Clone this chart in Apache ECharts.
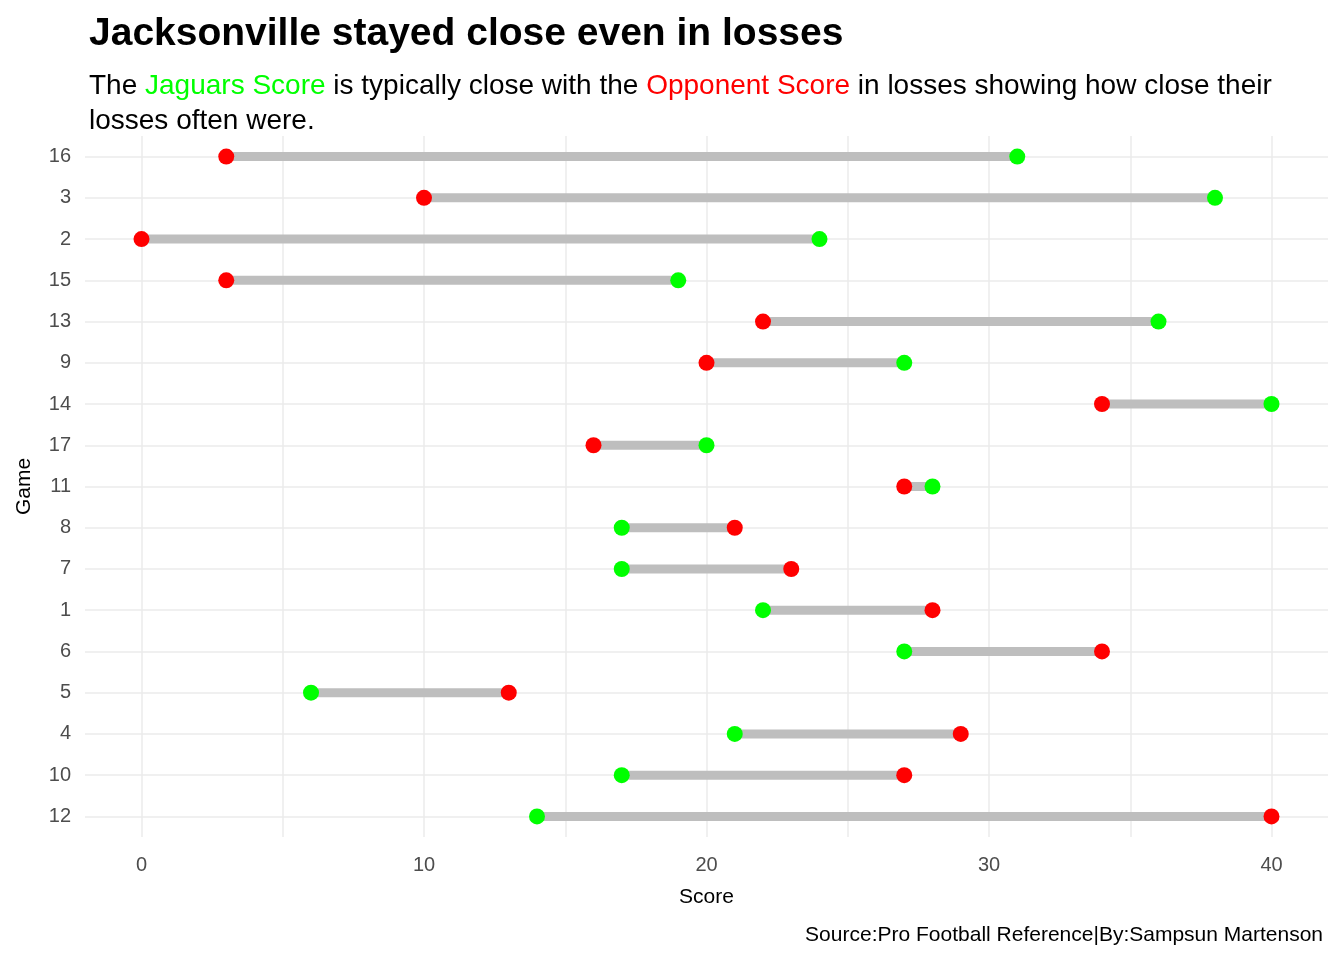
<!DOCTYPE html>
<html>
<head>
<meta charset="utf-8">
<script src="https://cdn.jsdelivr.net/npm/echarts@6/dist/echarts.min.js"></script>
<style>html,body{margin:0;padding:0;background:#fff}#chart{width:1344px;height:960px}</style>
</head>
<body>
<div id="chart"></div>
<script>
// games listed top to bottom
const games = ['16', '3', '2', '15', '13', '9', '14', '17', '11', '8', '7', '1', '6', '5', '4', '10', '12'];
const jaguarsScore = [31, 38, 24, 19, 36, 27, 40, 20, 28, 17, 17, 22, 27, 6, 21, 17, 14];
const opponentScore = [3, 10, 0, 3, 22, 20, 34, 16, 27, 21, 23, 28, 34, 13, 29, 27, 40];
const xGridValues = [0, 5, 10, 15, 20, 25, 30, 35, 40];
const xLabelValues = [0, 10, 20, 30, 40];

let chart = echarts.init(document.getElementById('chart'));
const font = 'Liberation Sans, Arial, sans-serif';
const rows = games.map((g, i) => i);

const option = {
    textStyle: { fontFamily: font },
    title: [
        {
            text: 'Jacksonville stayed close even in losses',
            left: 84, top: 10,
            textStyle: { fontSize: 39, fontWeight: 'bold', color: '#000', fontFamily: font }
        },
        {
            text: '{n|The }{g|Jaguars Score}{n| is typically close with the }{r|Opponent Score}{n| in losses showing how close their}\n{n|losses often were.}',
            left: 84, top: 64,
            textStyle: {
                fontFamily: font,
                fontWeight: 'normal',
                rich: {
                    n: { fontSize: 28, color: '#000', lineHeight: 35, fontWeight: 'normal', fontFamily: font },
                    g: { fontSize: 28, color: '#00ff00', lineHeight: 35, fontWeight: 'normal', fontFamily: font },
                    r: { fontSize: 28, color: '#ff0000', lineHeight: 35, fontWeight: 'normal', fontFamily: font }
                }
            }
        },
        {
            text: 'Source:Pro Football Reference|By:Sampsun Martenson',
            right: 16, top: 920,
            textStyle: { fontSize: 21, fontWeight: 'normal', color: '#000', fontFamily: font }
        }
    ],
    grid: { left: 85, right: 16, top: 136, bottom: 123 },
    xAxis: {
        type: 'value',
        min: -2, max: 42,
        name: 'Score',
        nameLocation: 'middle',
        nameGap: 50,
        nameTextStyle: { fontSize: 21, color: '#000' },
        axisLine: { show: false },
        axisTick: { show: false, customValues: xGridValues },
        axisLabel: { fontSize: 20, color: '#4d4d4d', margin: 18, customValues: xLabelValues },
        splitLine: { show: true, lineStyle: { color: '#ebebeb', width: 1.5 } }
    },
    yAxis: {
        type: 'value',
        min: -0.5, max: 16.5,
        inverse: true,
        name: 'Game',
        nameLocation: 'middle',
        nameGap: 50,
        nameRotate: 90,
        nameTextStyle: { fontSize: 21, color: '#000' },
        axisLine: { show: false },
        axisTick: { show: false, customValues: rows },
        axisLabel: {
            fontSize: 20, color: '#4d4d4d', margin: 14,
            customValues: rows,
            formatter: v => games[Math.round(v)]
        },
        splitLine: { show: true, lineStyle: { color: '#ebebeb', width: 1.5 } }
    },
    series: [
        {
            type: 'custom',
            data: rows.map(i => [jaguarsScore[i], opponentScore[i], i]),
            renderItem: function (params, api) {
                const a = api.coord([api.value(0), api.value(2)]);
                const b = api.coord([api.value(1), api.value(2)]);
                return {
                    type: 'line',
                    shape: { x1: a[0], y1: a[1], x2: b[0], y2: b[1] },
                    style: { stroke: '#bebebe', lineWidth: 9 }
                };
            },
            silent: true,
            z: 1
        },
        {
            name: 'Jaguars Score',
            type: 'scatter',
            symbolSize: 16,
            itemStyle: { color: '#00ff00', opacity: 1 },
            data: rows.map(i => [jaguarsScore[i], i]),
            z: 3
        },
        {
            name: 'Opponent Score',
            type: 'scatter',
            symbolSize: 16,
            itemStyle: { color: '#ff0000', opacity: 1 },
            data: rows.map(i => [opponentScore[i], i]),
            z: 3
        }
    ]
};

chart.setOption(option);
</script>
</body>
</html>
